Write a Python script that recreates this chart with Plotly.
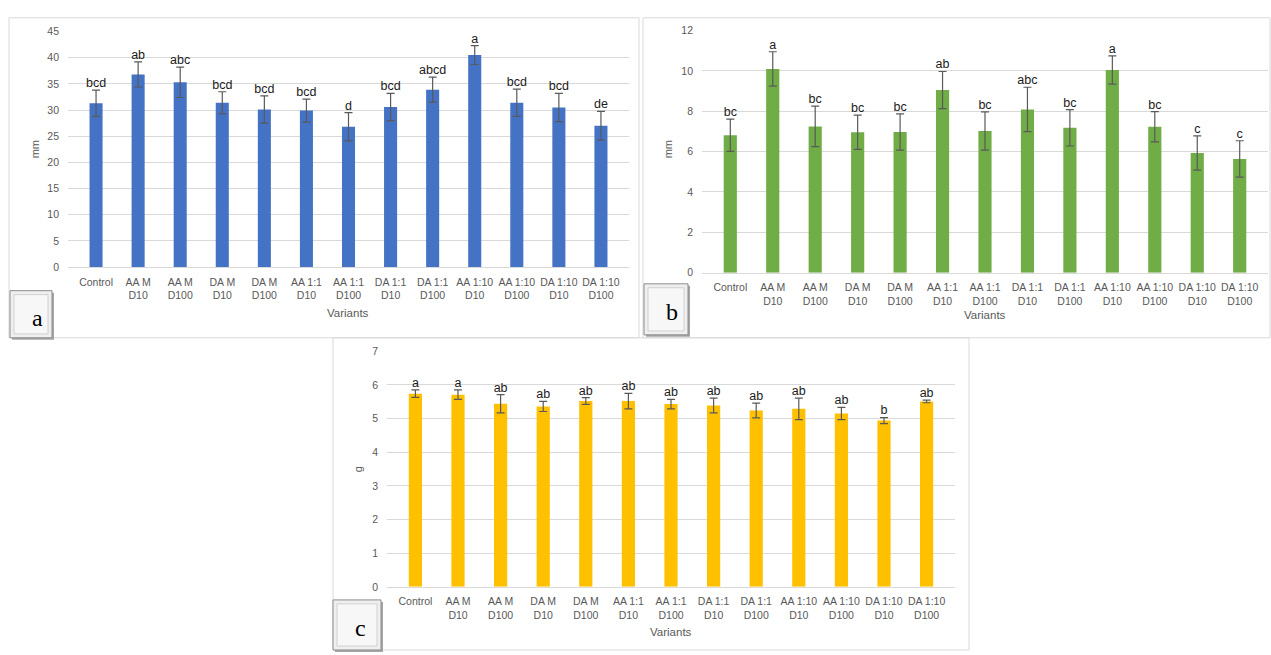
import plotly.graph_objects as go

W, H = 1271, 655

tick_labels = ["Control", "AA M<br>D10", "AA M<br>D100", "DA M<br>D10", "DA M<br>D100",
               "AA 1:1<br>D10", "AA 1:1<br>D100", "DA 1:1<br>D10", "DA 1:1<br>D100",
               "AA 1:10<br>D10", "AA 1:10<br>D100", "DA 1:10<br>D10", "DA 1:10<br>D100"]

a_values = [31.3, 36.8, 35.3, 31.4, 30.1, 29.9, 26.8, 30.6, 33.9, 40.5, 31.4, 30.5, 27.0]
a_errors = [2.5, 2.4, 2.9, 2.1, 2.6, 2.2, 2.7, 2.6, 2.4, 1.8, 2.6, 2.7, 2.75]
a_letters = ["bcd", "ab", "abc", "bcd", "bcd", "bcd", "d", "bcd", "abcd", "a", "bcd", "bcd", "de"]

b_values = [6.81, 10.1, 7.25, 6.96, 6.97, 9.05, 7.02, 8.09, 7.18, 10.04, 7.23, 5.93, 5.64]
b_errors = [0.8, 0.85, 1.0, 0.85, 0.9, 0.92, 0.95, 1.1, 0.9, 0.7, 0.75, 0.85, 0.9]
b_letters = ["bc", "a", "bc", "bc", "bc", "ab", "bc", "abc", "bc", "a", "bc", "c", "c"]

c_values = [5.74, 5.71, 5.44, 5.36, 5.52, 5.52, 5.43, 5.39, 5.24, 5.29, 5.15, 4.94, 5.51]
c_errors = [0.11, 0.14, 0.27, 0.15, 0.1, 0.23, 0.14, 0.22, 0.22, 0.32, 0.18, 0.09, 0.04]
c_letters = ["a", "a", "ab", "ab", "ab", "ab", "ab", "ab", "ab", "ab", "ab", "b", "ab"]

panels = [
    dict(vals=a_values, errs=a_errors, letters=a_letters, color="#4472C4",
         x=(68, 629), y=(26, 266), rng=[0, 45], dtick=5, ytitle="mm",
         ytitle_xy=(35, 146), vt_xy=(348, 313),
         frame=(9, 12, 639, 338), box=(10, 290, 52, 338), lab="a", lab_xy=(37, 318)),
    dict(vals=b_values, errs=b_errors, letters=b_letters, color="#70AD47",
         x=(702, 1268), y=(25, 271.7), rng=[0, 12], dtick=2, ytitle="mm",
         ytitle_xy=(668, 146), vt_xy=(985, 315),
         frame=(643, 12, 1270, 338), box=(644, 283, 688, 335), lab="b", lab_xy=(672, 312)),
    dict(vals=c_values, errs=c_errors, letters=c_letters, color="#FFC000",
         x=(387, 955), y=(351.7, 591.7), rng=[0, 7], dtick=1, ytitle="g",
         ytitle_xy=(358, 472), vt_xy=(671, 638),
         frame=(333, 338, 969, 656), box=(333, 605, 381, 656), lab="c", lab_xy=(360, 634)),
]

def px(x):
    return x / W

def py(y):
    return 1 - y / H

fig = go.Figure()
shapes = []
annotations = []
font_family = "Liberation Sans, Arial, sans-serif"
tick_color = "#595959"

for i, p in enumerate(panels):
    sfx = "" if i == 0 else str(i + 1)
    xa, ya = "x" + sfx, "y" + sfx
    x0, y0, x1, y1 = p["frame"]
    shapes.append(dict(type="rect", xref="paper", yref="paper", x0=px(x0), x1=px(x1),
                       y0=py(y1), y1=py(y0), line=dict(color="#D9D9D9", width=1),
                       fillcolor="rgba(0,0,0,0)", layer="below"))
    fig.add_trace(go.Bar(
        x=tick_labels, y=p["vals"], marker=dict(color=p["color"], line=dict(width=0)),
        width=0.31,
        error_y=dict(type="data", array=p["errs"], visible=True, color="#595959",
                     thickness=1.2, width=4),
        xaxis=xa, yaxis=ya, showlegend=False))
    tops = [v + e for v, e in zip(p["vals"], p["errs"])]
    fig.add_trace(go.Scatter(
        x=tick_labels, y=tops, mode="text", text=p["letters"], textposition="top center",
        textfont=dict(family="Liberation Sans, Arial", size=12.5, color="#1a1a1a"),
        xaxis=xa, yaxis=ya, showlegend=False, cliponaxis=False))
    axx = dict(domain=[px(p["x"][0]), px(p["x"][1])], anchor=ya, type="category",
               showgrid=False, showline=True, linecolor="#D9D9D9", linewidth=1,
               ticks="", tickfont=dict(family=font_family, size=10.5, color=tick_color),
               ticklabelstandoff=5, fixedrange=True)
    axy = dict(domain=[py(p["y"][1]), py(p["y"][0])], anchor=xa, range=p["rng"],
               dtick=p["dtick"], showgrid=True, gridcolor="#D9D9D9", gridwidth=1,
               zeroline=False, showline=False, ticks="",
               tickfont=dict(family=font_family, size=10.5, color=tick_color),
               ticklabelstandoff=8, fixedrange=True)
    fig.update_layout(**{"xaxis" + sfx: axx, "yaxis" + sfx: axy})
    annotations.append(dict(text=p["ytitle"], xref="paper", yref="paper",
                            x=px(p["ytitle_xy"][0]), y=py(p["ytitle_xy"][1]),
                            xanchor="center", yanchor="middle",
                            showarrow=False, textangle=-90,
                            font=dict(family=font_family, size=11, color=tick_color)))
    annotations.append(dict(text="Variants", xref="paper", yref="paper",
                            x=px(p["vt_xy"][0]), y=py(p["vt_xy"][1]),
                            xanchor="center", yanchor="middle",
                            showarrow=False,
                            font=dict(family=font_family, size=11.5, color=tick_color)))
    bx0, by0, bx1, by1 = p["box"]
    shapes.append(dict(type="rect", xref="paper", yref="paper", x0=px(bx0 + 2), x1=px(bx1 + 2),
                       y0=py(by1 + 2), y1=py(by0 + 2), line=dict(width=0),
                       fillcolor="#A6A6A6", layer="above"))
    shapes.append(dict(type="rect", xref="paper", yref="paper", x0=px(bx0), x1=px(bx1),
                       y0=py(by1), y1=py(by0), line=dict(color="#8C8C8C", width=1),
                       fillcolor="#EFEFEF", layer="above"))
    shapes.append(dict(type="rect", xref="paper", yref="paper", x0=px(bx0 + 4), x1=px(bx1 - 4),
                       y0=py(by1 - 4), y1=py(by0 + 4), line=dict(color="#D0D0D0", width=1),
                       fillcolor="#F7F7F7", layer="above"))
    annotations.append(dict(text=p["lab"], xref="paper", yref="paper",
                            x=px(p["lab_xy"][0]), y=py(p["lab_xy"][1]),
                            xanchor="center", yanchor="middle",
                            showarrow=False,
                            font=dict(family="Liberation Serif, Times New Roman, serif",
                                      size=24, color="#000000")))

fig.update_layout(width=W, height=H, margin=dict(l=0, r=0, t=0, b=0),
                  paper_bgcolor="white", plot_bgcolor="white",
                  shapes=shapes, annotations=annotations, bargap=0.69)
fig.write_html("out.html")
